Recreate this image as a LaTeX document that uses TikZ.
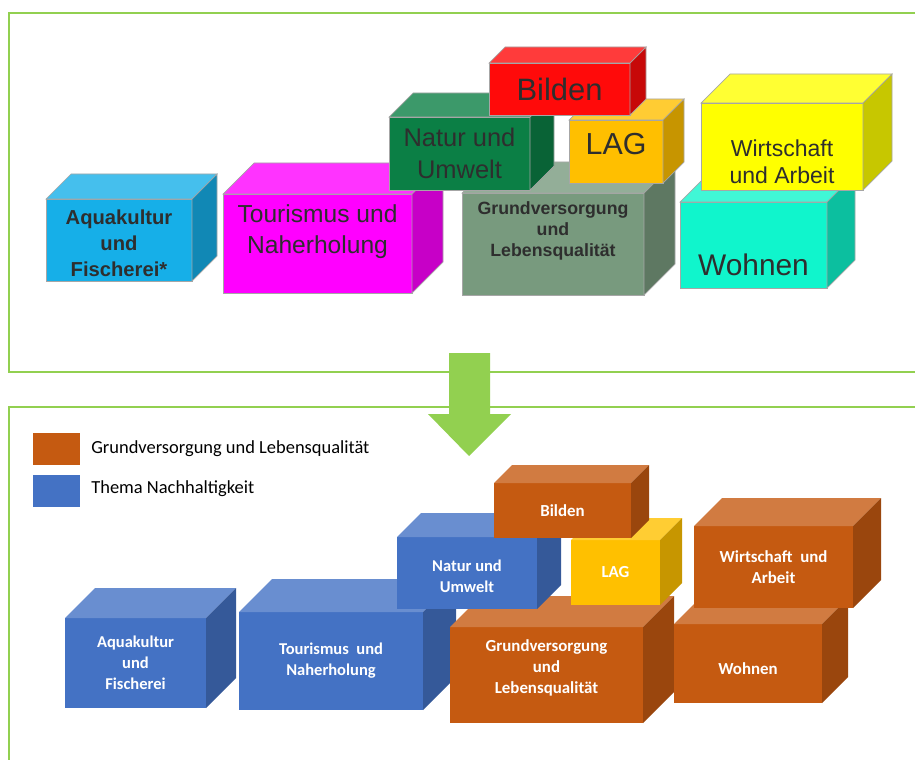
\documentclass[tikz,border=0pt]{standalone}
\usepackage{fontspec}
\newfontfamily\arialfont{Liberation Sans}
\newfontfamily\califont{Carlito}
\usetikzlibrary{positioning}
\definecolor{frameg}{HTML}{92D050}
\definecolor{aquac}{HTML}{16AFE8}
\definecolor{magc}{HTML}{FF00FF}
\definecolor{natc}{HTML}{0B7F45}
\definecolor{redc}{HTML}{FF0A0A}
\definecolor{lagc}{HTML}{FFBF00}
\definecolor{grundc}{HTML}{789A7E}
\definecolor{yelc}{HTML}{FFFF00}
\definecolor{turc}{HTML}{10F5CC}
\definecolor{nblue}{HTML}{4472C4}
\definecolor{norange}{HTML}{C55A11}
\definecolor{ngold}{HTML}{FFC000}
% cube: [label opts]{name}{x1}{y1}{x2}{y2}{depth}{colour}{text}
\newcommand{\cube}[9][]{%
  \path[face,fill=#8] (#3,#4) rectangle (#5,#6);
  \path[face,fill=#8!80!white] (#3,#4) -- ++(#7,-#7) -- ({#5+#7},{#4-#7}) -- (#5,#4) -- cycle;
  \path[face,fill=#8!78!black] (#5,#4) -- ({#5+#7},{#4-#7}) -- ({#5+#7},{#6-#7}) -- (#5,#6) -- cycle;
  \node[lbl,#1] (#2) at ({(#3+#5)/2},{(#4+#6)/2}) {#9};}

\begin{document}
\begin{tikzpicture}[x=0.02cm,y=-0.02cm,
  frame/.style={draw=frameg,line width=1.7pt},
  lbl/.style={align=center,inner sep=0pt},
  ts/.style 2 args={font=\arialfont\fontsize{#1}{#2}\selectfont,text=black!82},
  tsb/.style 2 args={font=\arialfont\bfseries\fontsize{#1}{#2}\selectfont,text=black!82},
  cs/.style 2 args={font=\califont\bfseries\fontsize{#1}{#2}\selectfont,text=white},
  swatch/.style={minimum width=0.94cm,minimum height=0.64cm,inner sep=0pt},
  legtext/.style={font=\califont\fontsize{10.5}{12.6}\selectfont,anchor=west,inner sep=0pt}]
  \useasboundingbox (0,0) rectangle (915,760);
  % ---- frames
  \draw[frame] (915,13) -- (9,13) -- (9,372) -- (915,372);
  \draw[frame] (915,407) -- (9,407) -- (9,760);
  % ---- old themes
  \begin{scope}[face/.style={draw=black!35,line width=0.4pt}]
    \cube[tsb={11.5}{14.7},yshift=-2pt]{aqua}{46}{199}{192}{281}{25}{aquac}{Aquakultur\\und\\Fischerei*}
    \cube[ts={14}{17.6},yshift=7pt]{tour}{223}{194}{412}{293}{31}{magc}{Tourismus und\\Naherholung}
    \cube[tsb={10.1}{11.9},yshift=7.5pt]{grund}{462}{193}{644}{295}{31}{grundc}{Grundversorgung\\und\\Lebensqualit\"at}
    \cube[ts={14.5}{18}]{natur}{389}{117}{530}{190}{24}{natc}{Natur und\\Umwelt}
    \cube[ts={17.3}{20},yshift=4.5pt]{lag}{569}{120}{663}{183}{21}{lagc}{LAG}
    \cube[ts={17.6}{20}]{bilden}{489}{63}{630}{115}{16}{redc}{Bilden}
    \cube[ts={17}{20},yshift=-11pt]{wohnen}{680}{202}{827}{288}{28}{turc}{Wohnen}
    \cube[ts={13.1}{15.3},yshift=-8.5pt]{wirt}{701}{103}{863}{190}{29}{yelc}{Wirtschaft\\und Arbeit}
  \end{scope}
  % ---- arrow
  \fill[frameg] (449,353) -- (490,353) -- (490,414) -- (511,414) -- (469,456)
    -- (428,414) -- (449,414) -- cycle;
  % ---- legend
  \node[swatch,fill=norange] (lgrund) at (56.5,449) {};
  \node[swatch,fill=nblue] (lnach) at (56.5,491) {};
  \node[legtext] (lgrundt) at (91,449) {Grundversorgung und Lebensqualit\"at};
  \node[legtext] (lnacht) at (91,489) {Thema Nachhaltigkeit};
  % ---- new themes
  \begin{scope}[face/.style={}]
    \cube[cs={9.4}{11.9}]{naqua}{65}{618}{206}{708}{30}{nblue}{Aquakultur\\und\\Fischerei}
    \cube[cs={9.4}{11.9}]{ntour}{239}{612}{423}{710}{33}{nblue}{Tourismus~ und\\Naherholung}
    \cube[cs={9.6}{11.9},yshift=4pt]{ngrund}{450}{627}{643}{723}{31}{norange}{Grundversorgung\\und\\Lebensqualit\"at}
    \cube[cs={9.4}{11.9},yshift=-2pt]{nnatur}{397}{537}{537}{609}{24}{nblue}{Natur und\\Umwelt}
    \cube[cs={9.6}{11.9}]{nlag}{571}{540}{660}{605}{22}{ngold}{LAG}
    \cube[cs={9.6}{11.9}]{nbilden}{494}{483}{631}{538}{18}{norange}{Bilden}
    \cube[cs={9.6}{11.9},yshift=-3pt]{nwohnen}{674}{624}{822}{703}{26}{norange}{Wohnen}
    \cube[cs={9.6}{11.9}]{nwirt}{694}{526}{853}{608}{28}{norange}{Wirtschaft~ und\\Arbeit}
  \end{scope}
\end{tikzpicture}
\end{document}
